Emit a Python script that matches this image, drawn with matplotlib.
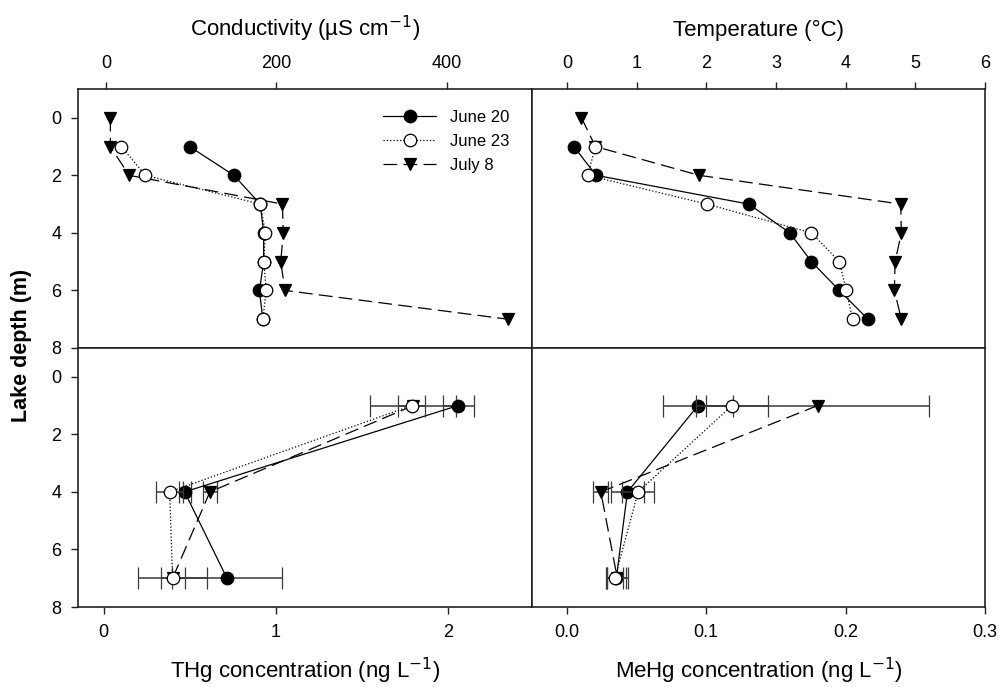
import matplotlib.pyplot as plt

plt.rcParams['font.family'] = ['Liberation Sans', 'DejaVu Sans']

# depth profiles (m)
depth_prof = [1, 2, 3, 4, 5, 6, 7]
depth_jul = [0, 1, 2, 3, 4, 5, 6, 7]

# conductivity (uS/cm)
cond_jun20 = [98, 150, 181, 185, 185, 180, 184]
cond_jun23 = [18, 46, 181, 187, 185, 188, 184]
cond_jul8 = [5, 5, 27, 207, 208, 205, 210, 472]

# temperature (C)
temp_jun20 = [0.10, 0.42, 2.61, 3.20, 3.51, 3.91, 4.32]
temp_jun23 = [0.41, 0.30, 2.01, 3.51, 3.91, 4.01, 4.10]
temp_jul8 = [0.21, 0.41, 1.90, 4.79, 4.80, 4.71, 4.70, 4.80]

# mercury samples
depth_hg = [1, 4, 7]
thg_jun20 = [2.06, 0.47, 0.716]
thg_jun20_err = [0.09, 0.035, 0.32]
thg_jun23 = [1.79, 0.383, 0.40]
thg_jun23_err = [0.08, 0.08, 0.07]
thg_jul8 = [1.80, 0.617, 0.40]
thg_jul8_err = [0.25, 0.04, 0.20]

mehg_jun20 = [0.0941, 0.0435, 0.0355]
mehg_jun20_err = [0.025, 0.012, 0.007]
mehg_jun23 = [0.1185, 0.0511, 0.0345]
mehg_jun23_err = [0.0255, 0.0115, 0.006]
mehg_jul8 = [0.180, 0.0244, 0.0362]
mehg_jul8_err = [0.080, 0.0053, 0.008]

W, H = 999, 687
fig = plt.figure(figsize=(W / 100, H / 100), dpi=100)


def box(x0, y0, x1, y1):
    return fig.add_axes([x0 / W, 1 - y1 / H, (x1 - x0) / W, (y1 - y0) / H])


ax_c = box(78, 89, 532, 348)
ax_t = box(532, 89, 985, 348)
ax_thg = box(78, 348, 532, 607)
ax_me = box(532, 348, 985, 607)

spine_col = '#222222'
err_col = '#3a3a3a'
fs_tick = 13
fs_lab = 16

styles = {
    'jun20': dict(color='black', ls='-', marker='o', mfc='black', mec='black', label='June 20'),
    'jun23': dict(color='black', ls=':', marker='o', mfc='white', mec='black', label='June 23'),
    'jul8': dict(color='black', ls=(0, (11, 5)), marker='v', mfc='black', mec='black', label='July 8'),
}
common = dict(lw=0.9, ms=9, mew=0.9)

ax_c.plot(cond_jun20, depth_prof, **styles['jun20'], **common, zorder=4)
ax_c.plot(cond_jun23, depth_prof, **styles['jun23'], **common, zorder=5)
ax_c.plot(cond_jul8, depth_jul, **styles['jul8'], **common, zorder=3)

ax_t.plot(temp_jun20, depth_prof, **styles['jun20'], **common, zorder=4)
ax_t.plot(temp_jun23, depth_prof, **styles['jun23'], **common, zorder=5)
ax_t.plot(temp_jul8, depth_jul, **styles['jul8'], **common, zorder=3)

for ax, vals in ((ax_thg, [(thg_jun20, thg_jun20_err), (thg_jun23, thg_jun23_err), (thg_jul8, thg_jul8_err)]),
                 (ax_me, [(mehg_jun20, mehg_jun20_err), (mehg_jun23, mehg_jun23_err), (mehg_jul8, mehg_jul8_err)])):
    for (x, e), key, z in zip(vals, ['jun20', 'jun23', 'jul8'], [4, 5, 3]):
        ax.errorbar(x, depth_hg, xerr=e, ecolor=err_col, elinewidth=1.1, capsize=8,
                    capthick=1.1, **styles[key], **common, zorder=z)

leg = ax_c.legend(loc='upper left', bbox_to_anchor=(0.672, 0.918), frameon=False,
                  fontsize=12, handlelength=3.2, handletextpad=0.8, labelspacing=0.52,
                  borderpad=0, borderaxespad=0)

ax_c.set_xlim(-33, 500)
ax_t.set_xlim(-0.5, 6)
ax_thg.set_xlim(-0.15, 2.49)
ax_me.set_xlim(-0.025, 0.3)
ax_c.set_xticks([0, 200, 400])
ax_t.set_xticks(range(0, 7))
ax_thg.set_xticks([0, 1, 2])
ax_me.set_xticks([0.0, 0.1, 0.2, 0.3])
ax_me.set_xticklabels(['0.0', '0.1', '0.2', '0.3'])

for ax in (ax_c, ax_t, ax_thg, ax_me):
    ax.set_ylim(8, -1)
    ax.set_yticks([0, 2, 4, 6, 8])
    for s in ax.spines.values():
        s.set_color(spine_col)
        s.set_linewidth(1.2)
    ax.tick_params(direction='out', length=5, width=1, color=spine_col,
                   labelsize=fs_tick, pad=7)

for ax in (ax_c, ax_t):
    ax.xaxis.tick_top()
    ax.xaxis.set_label_position('top')
for ax in (ax_t, ax_me):
    ax.tick_params(axis='y', left=False, labelleft=False)

ax_c.set_xlabel('Conductivity (µS cm$^{-1}$)', fontsize=fs_lab, labelpad=14)
ax_t.set_xlabel('Temperature (°C)', fontsize=fs_lab, labelpad=14)
ax_thg.set_xlabel('THg concentration (ng L$^{-1}$)', fontsize=fs_lab, labelpad=11)
ax_me.set_xlabel('MeHg concentration (ng L$^{-1}$)', fontsize=fs_lab, labelpad=11)

fig.text(22 / W, 1 - 345 / H, 'Lake depth (m)', rotation=90, fontsize=15.5,
         fontweight='bold', ha='center', va='center')

fig.savefig('out.png', dpi=100)
